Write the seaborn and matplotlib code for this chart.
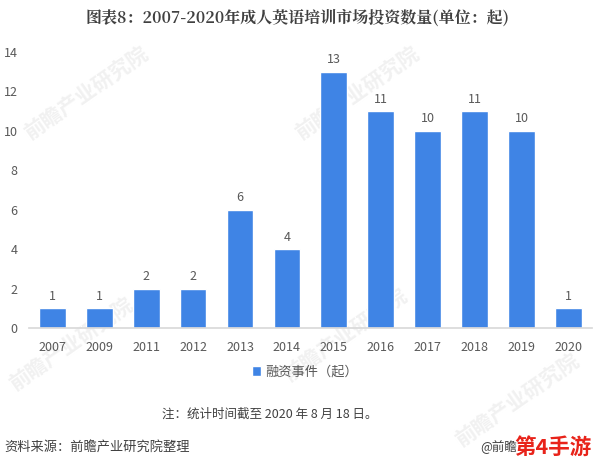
import matplotlib
matplotlib.use("Agg")
import matplotlib.pyplot as plt
import pandas as pd
import seaborn as sns

years = ["2007", "2009", "2011", "2012", "2013", "2014", "2015", "2016", "2017", "2018", "2019", "2020"]
counts = [1, 1, 2, 2, 6, 4, 13, 11, 10, 11, 10, 1]
y_ticks = [0, 2, 4, 6, 8, 10, 12, 14]
series_name = "融资事件（起）"
title_text = "图表8：2007-2020年成人英语培训市场投资数量(单位：起)"
note_text = "注：统计时间截至 2020 年 8 月 18 日。"
source_text = "资料来源：前瞻产业研究院整理"
credit_text = "@前瞻"
stamp_text = "第4手游"
watermarks = [(0.145, 0.80), (0.60, 0.80), (0.12, 0.26), (0.58, 0.28), (0.87, 0.14)]

sns.set_theme(style="white")
plt.rcParams["font.family"] = ["Noto Sans CJK SC", "DejaVu Sans"]
W, H = 594, 465
fig = plt.figure(figsize=(W / 100, H / 100), dpi=100)
ax = fig.add_axes([28.8 / W, 1 - 328 / H, (592 - 28.8) / W, (328 - 52) / H])
ax.patch.set_visible(False)

df = pd.DataFrame({"year": years, "count": counts})
sns.barplot(data=df, x="year", y="count", color="#3F84E5", saturation=1, width=0.57,
            ax=ax, label=series_name, legend=False)
ax.set_xlim(-0.5, len(years) - 0.5)
ax.set_ylim(0, 14)
ax.set_yticks(y_ticks)
ax.set_xlabel("")
ax.set_ylabel("")
for s in ["top", "right", "left"]:
    ax.spines[s].set_visible(False)
ax.spines["bottom"].set_color("#D9D9D9")
ax.tick_params(axis="x", length=0, labelsize=9, labelcolor="#595959", pad=9.5)
ax.tick_params(axis="y", length=0, labelsize=9, labelcolor="#595959", pad=8)
for c in ax.containers:
    ax.bar_label(c, padding=4, fontsize=9, color="#595959")

for x, y in watermarks:
    fig.text(x, y, "前瞻产业研究院", fontsize=15, color="#F1F1F1", rotation=35,
             ha="center", va="center", zorder=-1, fontweight="bold")

fig.text(0.5, 1 - 18 / H, title_text, ha="center", va="center", fontsize=11.5,
         fontweight="bold", color="#404040", family=["Noto Serif CJK SC", "Noto Sans CJK SC", "DejaVu Sans"])
handles, labels = ax.get_legend_handles_labels()
fig.legend(handles, labels, loc="center", bbox_to_anchor=(305 / W, 1 - 372 / H), frameon=False,
           fontsize=9.5, labelcolor="#595959", handlelength=0.7, handleheight=0.7, handletextpad=0.3)
fig.text(270 / W, 1 - 414 / H, note_text, ha="center", va="center", fontsize=9, color="#404040")
fig.text(4 / W, 1 - 447 / H, source_text, ha="left", va="center", fontsize=9.5, color="#404040")
fig.text(480 / W, 1 - 447 / H, credit_text, ha="left", va="center", fontsize=9, color="#404040")
fig.text(514 / W, 1 - 447 / H, stamp_text, ha="left", va="center", fontsize=15.5,
         fontweight="bold", color="#E8231A")
fig.savefig("out.png", dpi=100, facecolor="white")
